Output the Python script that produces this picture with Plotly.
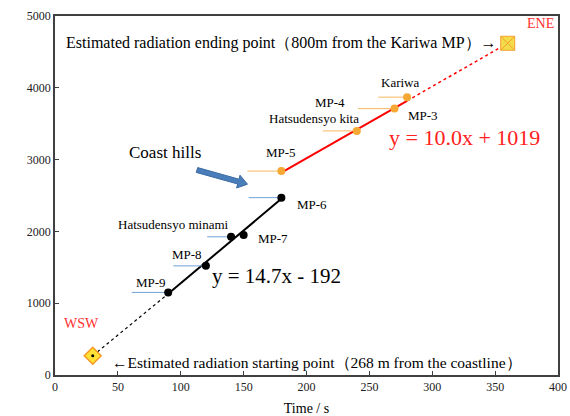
import plotly.graph_objects as go

# measurement points (time / s, distance / m)
wsw_t = [90, 120, 140, 150, 180]
wsw_d = [1150, 1520, 1925, 1950, 2470]
wsw_names = ["MP-9", "MP-8", "Hatsudensyo minami", "MP-7", "MP-6"]
wsw_lead = [29, 26, 19, 0, 26]

ene_t = [180, 240, 270, 280]
ene_d = [2840, 3400, 3710, 3870]
ene_names = ["MP-5", "Hatsudensyo kita", "MP-4", "Kariwa"]
ene_lead = [27, 27, 29, 23]

# fitted lines
fit_wsw_t = [90, 180]
fit_wsw_d = [1131, 2454]
ext_wsw_t = [30, 90]
ext_wsw_d = [268, 1131]
fit_ene_t = [180, 280]
fit_ene_d = [2819, 3819]
ext_ene_t = [280, 360]
ext_ene_d = [3819, 4620]

start_pt = (30, 268)
end_pt = (360, 4620)

SERIF = "Liberation Serif"
ORANGE = "#F5A833"
RED = "#FF0000"

fig = go.Figure()

fig.add_trace(go.Scatter(x=ext_wsw_t, y=ext_wsw_d, mode="lines",
                         line=dict(color="black", width=1.2, dash="dot")))
fig.add_trace(go.Scatter(x=fit_wsw_t, y=fit_wsw_d, mode="lines",
                         line=dict(color="black", width=2)))
fig.add_trace(go.Scatter(x=ext_ene_t, y=ext_ene_d, mode="lines",
                         line=dict(color=RED, width=1.5, dash="dot")))
fig.add_trace(go.Scatter(x=fit_ene_t, y=fit_ene_d, mode="lines",
                         line=dict(color=RED, width=2)))

fig.add_trace(go.Scatter(
    x=wsw_t, y=wsw_d, mode="markers",
    marker=dict(color="black", size=8),
    error_x=dict(type="data", symmetric=False, array=[0] * len(wsw_t),
                 arrayminus=wsw_lead, color="#6FA3D8", thickness=1, width=0),
))
fig.add_trace(go.Scatter(
    x=ene_t, y=ene_d, mode="markers",
    marker=dict(color=ORANGE, size=8),
    error_x=dict(type="data", symmetric=False, array=[0] * len(ene_t),
                 arrayminus=ene_lead, color="#F7B860", thickness=1, width=0),
))

fig.add_trace(go.Scatter(
    x=[start_pt[0]], y=[start_pt[1]], mode="markers",
    marker=dict(symbol="diamond", size=13, color="#FFE033",
                line=dict(color="#F59A23", width=1.5)),
))
fig.add_trace(go.Scatter(
    x=[start_pt[0]], y=[start_pt[1]], mode="markers",
    marker=dict(symbol="circle", size=3, color="black"),
))
fig.add_trace(go.Scatter(
    x=[end_pt[0]], y=[end_pt[1]], mode="markers",
    marker=dict(symbol="square-x", size=14, color="#F3DC4A",
                line=dict(color="#F5A030", width=1)),
))

labels = [
    ("MP-9", 76, 1295), ("MP-8", 105, 1685), ("Hatsudensyo minami", 94, 2103),
    ("MP-7", 173, 1908), ("MP-6", 204, 2368), ("MP-5", 180, 3092),
    ("Hatsudensyo kita", 206, 3579), ("MP-4", 219, 3802),
    ("Kariwa", 274, 4067), ("MP-3", 293, 3621),
]
for txt, x, y in labels:
    fig.add_annotation(x=x, y=y, text=txt, showarrow=False,
                       font=dict(family=SERIF, size=13, color="black"))

fig.add_annotation(x=180, y=4624, showarrow=False,
                   text="Estimated radiation ending point（800m from the Kariwa MP）→",
                   font=dict(family=SERIF, size=16, color="black"))
fig.add_annotation(x=208, y=181, showarrow=False,
                   text="←Estimated radiation starting point（268 m from the coastline）",
                   font=dict(family=SERIF, size=15.5, color="black"))
fig.add_annotation(x=0.996, y=0.978, xref="paper", yref="paper",
                   xanchor="right", yanchor="middle",
                   text="ENE", showarrow=False,
                   font=dict(family=SERIF, size=14, color="#FF3030"))
fig.add_annotation(x=21, y=724, text="WSW", showarrow=False,
                   font=dict(family=SERIF, size=14, color="#FF3030"))
fig.add_annotation(x=87.5, y=3092, text="Coast hills", showarrow=False,
                   font=dict(family=SERIF, size=17, color="black"))
fig.add_annotation(x=326, y=3301, text="y = 10.0x + 1019", showarrow=False,
                   font=dict(family=SERIF, size=22, color="#FF2020"))
fig.add_annotation(x=176.5, y=1379, text="y = 14.7x - 192", showarrow=False,
                   font=dict(family=SERIF, size=21, color="black"))


# block arrow pointing at the coast hills, drawn in plot-area pixels
def px(x, y):
    return (x - 55) / 503, (375 - y) / 359


arrow_px = [(197.7, 167.6), (239.1, 179.2), (240.0, 175.2), (247.5, 184.2),
            (236.6, 188.0), (237.7, 184.0), (196.3, 172.4)]
path = "M " + " L ".join("%.4f,%.4f" % px(a, b) for a, b in arrow_px) + " Z"
fig.add_shape(type="path", path=path, xref="paper", yref="paper",
              fillcolor="#4A7EBB", line=dict(color="#3B6AA0", width=1))

axis_style = dict(showline=True, linecolor="#404040", linewidth=1.5, mirror=True,
                  ticks="inside", ticklen=4, tickcolor="#404040",
                  showgrid=False, zeroline=False, automargin=False,
                  tickfont=dict(family=SERIF, size=12, color="#222222"))
fig.update_xaxes(range=[0, 400], dtick=50, **axis_style,
                 title=dict(text="Time / s", standoff=10,
                            font=dict(family=SERIF, size=14, color="black")))
fig.update_yaxes(range=[0, 5000], dtick=1000, **axis_style)

fig.update_layout(
    width=570, height=416,
    margin=dict(l=55, r=12, t=16, b=41),
    plot_bgcolor="white", paper_bgcolor="white",
    showlegend=False,
)

page_fix = (
    "document.body.style.margin='0';"
    "document.body.style.overflow='hidden';"
    "document.documentElement.style.overflow='hidden';"
)
fig.write_html("out.html", config={"displayModeBar": False}, post_script=page_fix)
